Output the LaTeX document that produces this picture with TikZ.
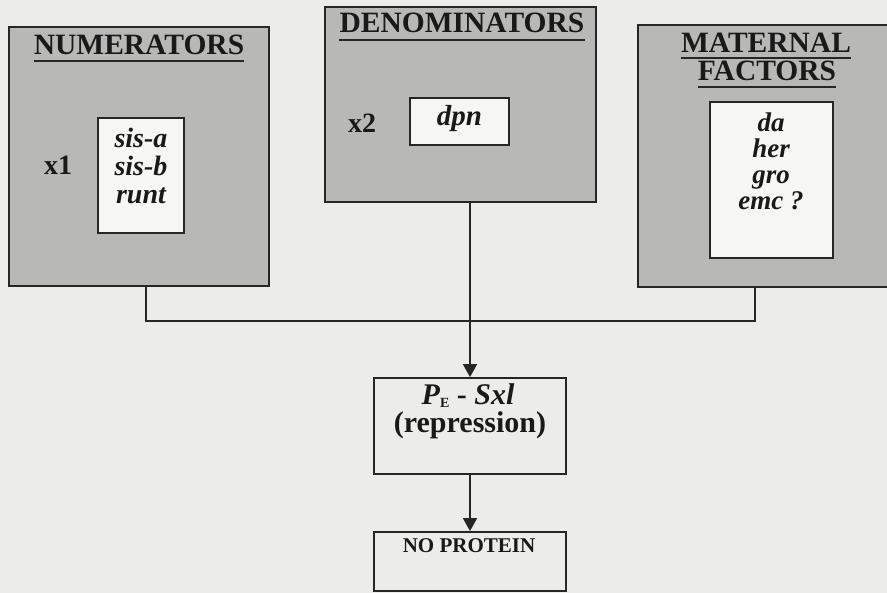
\documentclass[tikz,border=0pt]{standalone}
\usepackage{fontspec}
\setmainfont{Liberation Serif}
\usetikzlibrary{arrows.meta}
\definecolor{bgc}{RGB}{236,237,232}
\definecolor{boxgray}{RGB}{184,184,182}
\definecolor{inwhite}{RGB}{246,246,244}
\tikzset{
  outerbox/.style={draw=black!85, line width=2.2pt, fill=boxgray, inner sep=0pt},
  innerbox/.style={draw=black!85, line width=2pt, fill=inwhite, inner sep=0pt},
  flowbox/.style={draw=black!85, line width=1.8pt, fill=none, inner sep=0pt},
  title/.style={font=\fontsize{29.5}{30}\selectfont\bfseries, inner sep=0pt, text=black!90},
  gene/.style={font=\fontsize{28}{28}\selectfont\bfseries\itshape, align=center, inner sep=0pt, text=black!90},
  mult/.style={font=\fontsize{28}{30}\selectfont\bfseries, inner sep=0pt, text=black!90},
  uline/.style={line width=2pt, black!85},
  conn/.style={line width=1.8pt, black!85},
  arr/.style={conn, -{Triangle[width=14pt,length=13pt]}}
}
\begin{document}
\begin{tikzpicture}[x=1pt,y=-1pt]
\useasboundingbox[fill=bgc] (0,0) rectangle (887,593);
% outer boxes
\node[outerbox, minimum width=260pt, minimum height=259pt] (num) at (139,156.5) {};
\node[outerbox, minimum width=271pt, minimum height=195pt] (den) at (460.5,104.5) {};
\node[outerbox, minimum width=260pt, minimum height=262pt] (mat) at (768,156) {};
% titles
\node[title, anchor=base] (numt) at (139,55) {NUMERATORS};
\draw[uline] ([yshift=-6pt]numt.base west) -- ([yshift=-6pt]numt.base east);
\node[title, anchor=base] (dent) at (462,33) {DENOMINATORS};
\draw[uline] ([yshift=-7pt]dent.base west) -- ([yshift=-7pt]dent.base east);
\node[title, anchor=base] (matt1) at (766,53) {MATERNAL};
\draw[uline] ([yshift=-5pt]matt1.base west) -- ([yshift=-5pt]matt1.base east);
\node[title, anchor=base] (matt2) at (767,81) {FACTORS};
\draw[uline] ([yshift=-6pt]matt2.base west) -- ([yshift=-6pt]matt2.base east);
% inner boxes
\node[innerbox, minimum width=86pt, minimum height=115pt] (numi) at (141,175.5) {};
\node[gene] (numg) at (141,166) {sis-a\\sis-b\\runt};
\node[mult] (x1) at (58,165) {x1};
\node[innerbox, minimum width=99pt, minimum height=47pt] (deni) at (459.5,121.5) {};
\node[gene, font=\fontsize{29}{30}\selectfont\bfseries\itshape] (deng) at (459.5,119) {dpn};
\node[mult] (x2) at (362,123) {x2};
\node[innerbox, minimum width=123pt, minimum height=156pt] (mati) at (771.5,180) {};
\node[gene, font=\fontsize{27}{26}\selectfont\bfseries\itshape] (matg) at (771,161) {da\\her\\gro\\emc ?};
% flow boxes
\node[flowbox, minimum width=192pt, minimum height=96pt] (pe) at (470,426) {};
\node[font=\fontsize{30}{30}\selectfont\bfseries, inner sep=0pt, text=black!90, anchor=base] (pet1) at (468,405)
  {\textit{P}\raisebox{-0.2ex}{\fontsize{14}{14}\selectfont E} - \textit{Sxl}};
\node[font=\fontsize{30}{30}\selectfont\bfseries, inner sep=0pt, text=black!90, anchor=base] (pet2) at (470,433)
  {(repression)};
\node[flowbox, minimum width=192pt, minimum height=59pt] (np) at (470,561.5) {};
\node[font=\fontsize{21}{22}\selectfont\bfseries, inner sep=0pt, text=black!90, anchor=base] (npt) at (469,553) {NO PROTEIN};
% connectors
\coordinate (jl) at (146,321);
\coordinate (jr) at (755,321);
\draw[conn] (num.south -| jl) -- (jl) -- (jr) -- (mat.south -| jr);
\draw[arr] (den.south -| pe.north) -- (pe.north);
\draw[arr] (pe.south) -- (np.north);
\end{tikzpicture}
\end{document}
